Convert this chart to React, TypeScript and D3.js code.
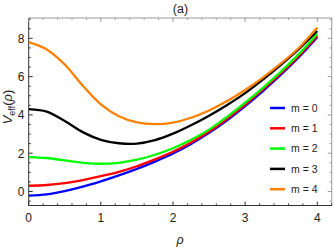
import React from 'react'
import * as d3 from 'd3'

// sample points in rho
const rho = [0, 0.25, 0.5, 0.75, 1, 1.25, 1.5, 1.75, 2, 2.25, 2.5, 2.75, 3, 3.25, 3.5, 3.75, 4]

const m0 = [-0.22, -0.15, 0.02, 0.25, 0.53, 0.84, 1.18, 1.56, 1.98, 2.48, 3.06, 3.72, 4.46, 5.26, 6.11, 7.04, 8.06]
const m1 = [0.3, 0.34, 0.44, 0.6, 0.8, 1.03, 1.32, 1.68, 2.08, 2.56, 3.13, 3.8, 4.54, 5.34, 6.19, 7.11, 8.13]
const m2 = [1.8, 1.75, 1.62, 1.5, 1.45, 1.5, 1.66, 1.92, 2.26, 2.7, 3.23, 3.9, 4.64, 5.43, 6.28, 7.2, 8.24]
const m3 = [4.3, 4.17, 3.68, 3.1, 2.7, 2.52, 2.5, 2.68, 3.02, 3.46, 3.96, 4.52, 5.14, 5.86, 6.63, 7.46, 8.38]
const m4 = [7.8, 7.42, 6.63, 5.52, 4.55, 3.93, 3.61, 3.52, 3.6, 3.85, 4.23, 4.72, 5.3, 5.96, 6.7, 7.52, 8.56]

const seriesNames = ['m = 0', 'm = 1', 'm = 2', 'm = 3', 'm = 4']
const seriesValues = [m0, m1, m2, m3, m4]
const colors = ['#0000ff', '#ff0000', '#00ff00', '#000000', '#ff8000']

const xTicks = [0, 1, 2, 3, 4]
const yTicks = [0, 2, 4, 6, 8]

export default function App() {
  const width = 334
  const height = 247
  const left = 28.7
  const right = 331.7
  const top = 18
  const bottom = 205.5

  const x = d3.scaleLinear().domain([0, 4.2]).range([left, left + 72.15 * 4.2])
  const y = d3.scaleLinear().domain([0, 8]).range([191.5, 38.3])

  const line = d3
    .line<number>()
    .x((_, i) => x(rho[i]))
    .y((d) => y(d))
    .curve(d3.curveCatmullRom.alpha(0.5))

  const xMinor = d3.range(0, 4.21, 0.2).filter((v) => Math.abs(v - Math.round(v)) > 0.01)
  const yMinor = d3.range(-0.5, 9.01, 0.5).filter((v) => Math.abs(v / 2 - Math.round(v / 2)) > 0.01)

  const font = 'Liberation Sans, Arial, sans-serif'

  return (
    <svg width={width} height={height} style={{ position: 'absolute', left: 0, top: 0 }} fontFamily={font}>
      <defs>
        <clipPath id="plot">
          <rect x={left} y={top} width={right - left} height={bottom - top} />
        </clipPath>
      </defs>

      {/* frame */}
      <line x1={left} x2={right} y1={top} y2={top} stroke="#999" />
      <line x1={right} x2={right} y1={top} y2={bottom} stroke="#999" />
      <line x1={left} x2={right} y1={bottom} y2={bottom} stroke="#333" />
      <line x1={left} x2={left} y1={top} y2={bottom} stroke="#333" />

      {/* x ticks */}
      {xTicks.map((t) => (
        <g key={'x' + t}>
          <line x1={x(t)} x2={x(t)} y1={bottom} y2={bottom - 4} stroke="#333" />
          <line x1={x(t)} x2={x(t)} y1={top} y2={top + 4} stroke="#999" />
          <text x={x(t)} y={221.5} textAnchor="middle" fontSize={12} fill="#222">{t}</text>
        </g>
      ))}
      {xMinor.map((t) => (
        <g key={'xm' + t}>
          <line x1={x(t)} x2={x(t)} y1={bottom} y2={bottom - 2} stroke="#333" />
          <line x1={x(t)} x2={x(t)} y1={top} y2={top + 2} stroke="#999" />
        </g>
      ))}

      {/* y ticks */}
      {yTicks.map((t) => (
        <g key={'y' + t}>
          <line x1={left} x2={left + 4} y1={y(t)} y2={y(t)} stroke="#333" />
          <line x1={right} x2={right - 4} y1={y(t)} y2={y(t)} stroke="#999" />
          <text x={24.5} y={y(t) + 4.3} textAnchor="end" fontSize={12} fill="#222">{t}</text>
        </g>
      ))}
      {yMinor.map((t) => (
        <g key={'ym' + t}>
          <line x1={left} x2={left + 2} y1={y(t)} y2={y(t)} stroke="#333" />
          <line x1={right} x2={right - 2} y1={y(t)} y2={y(t)} stroke="#999" />
        </g>
      ))}

      {/* curves */}
      <g clipPath="url(#plot)">
        {seriesValues.map((vals, i) => (
          <path key={seriesNames[i]} d={line(vals) ?? ''} fill="none" stroke={colors[i]} strokeWidth={2.3} />
        ))}
      </g>

      {/* legend */}
      {seriesNames.map((name, i) => {
        const ly = 108 + i * 20.3
        return (
          <g key={'lg' + name}>
            <line x1={270} x2={285} y1={ly} y2={ly} stroke={colors[i]} strokeWidth={2.5} />
            <text x={291} y={ly + 3.8} fontSize={10.5} fill="#222">{name}</text>
          </g>
        )
      })}

      {/* labels */}
      <text x={180.5} y={13} textAnchor="middle" fontSize={12.5} fill="#222">(a)</text>
      <text x={180} y={244} textAnchor="middle" fontSize={12.5} fontStyle="italic" fill="#222">ρ</text>
      <text transform="translate(12,107) rotate(-90)" textAnchor="middle" fontSize={13} fill="#222">
        <tspan fontStyle="italic">V</tspan>
        <tspan fontSize={9} dy={3}>eff</tspan>
        <tspan dy={-3}>(</tspan>
        <tspan fontStyle="italic">ρ</tspan>
        <tspan>)</tspan>
      </text>
    </svg>
  )
}
